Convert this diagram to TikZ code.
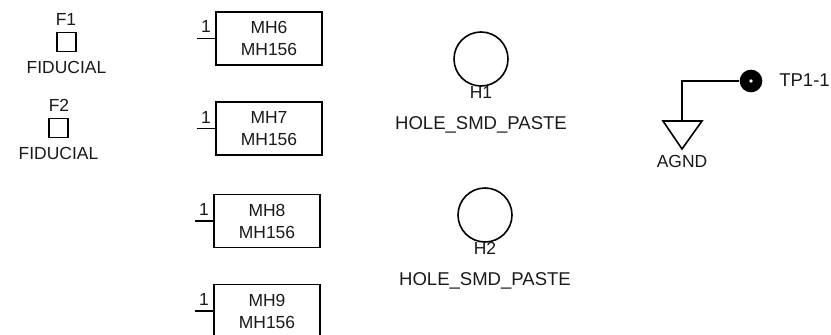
\documentclass[tikz,border=0pt]{standalone}
\usepackage{fontspec}
\setmainfont{Liberation Sans}
\begin{document}
\begin{tikzpicture}[x=0.75pt,y=-0.75pt,
  wire/.style={draw=black,line width=1.2pt},
  lbl/.style={inner sep=0pt,font=\fontsize{13.1}{16}\selectfont,text=black!90},
  widelbl/.style={lbl,font=\fontsize{13.9}{16}\selectfont},
  part/.style={draw=black,line width=1.2pt,minimum width=79.5pt,minimum height=40pt,inner sep=0pt,align=center,font=\fontsize{13.1}{16.5}\selectfont,text=black!90},
  fid/.style={draw=black,line width=1.2pt,minimum size=14.5pt,inner sep=0pt},
  hole/.style={draw=black,line width=1.2pt,circle,minimum size=40.5pt,inner sep=0pt},
  pinno/.style={lbl,anchor=base east}]
\useasboundingbox (0,0) rectangle (831,335);
\clip (0,0) rectangle (831,335);
% fiducials
\node[fid] (f1) at (66.5,42) {};
\node[lbl] (f1r) at (66,19.5) {F1};
\node[lbl] (f1v) at (66.5,67.5) {FIDUCIAL};
\node[fid] (f2) at (58.5,128) {};
\node[lbl] (f2r) at (59,105) {F2};
\node[lbl] (f2v) at (58.5,153) {FIDUCIAL};
% mounting holes
\node[part] (mh6) at (269,38.5) {MH6\\MH156};
\node[part] (mh7) at (269,128.5) {MH7\\MH156};
\node[part] (mh8) at (267,221) {MH8\\MH156};
\node[part] (mh9) at (267,311) {MH9\\MH156};
\coordinate (p6) at (197,38.5);
\coordinate (p7) at (197,128.5);
\coordinate (p8) at (195,221);
\coordinate (p9) at (195,311);
\foreach \n in {6,7,8,9}{
  \draw[wire] (p\n) -- (mh\n.west);
}
\node[pinno] (n6) at (211,33) {1};
\node[pinno] (n7) at (211,123) {1};
\node[pinno] (n8) at (209,215) {1};
\node[pinno] (n9) at (209,305) {1};
% holes
\node[hole] (h1) at (481,59) {};
\node[lbl] (h1r) at (481,92) {H1};
\node[widelbl] (h1v) at (481,125) {HOLE\_SMD\_PASTE};
\node[hole] (h2) at (485,215) {};
\node[lbl] (h2r) at (485,248) {H2};
\node[widelbl] (h2v) at (485,281) {HOLE\_SMD\_PASTE};
% test point and ground
\node[circle,fill=black,minimum size=17pt,inner sep=0pt] (tp) at (751,81) {};
\node[circle,fill=white,minimum size=2.8pt,inner sep=0pt] (tpc) at (751,81) {};
\coordinate (gt) at (682,121);
\draw[wire] (tp) -| (gt);
\draw[wire,line join=miter] (663,121) -- (702,121) -- (682,149) -- cycle;
\node[lbl] (agnd) at (682,161) {AGND};
\node[widelbl,anchor=west] (tpl) at (779,80.5) {TP1-1};
\end{tikzpicture}
\end{document}
